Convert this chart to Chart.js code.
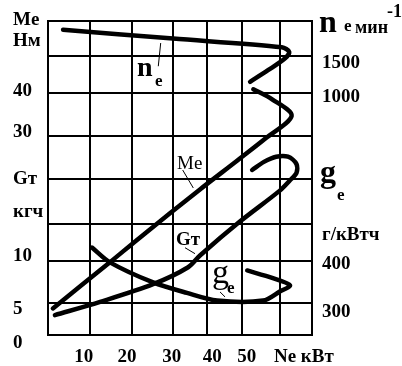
<!DOCTYPE html>
<html>
<head>
<meta charset="utf-8">
<script src="https://cdn.jsdelivr.net/npm/chart.js@4.4.1/dist/chart.umd.min.js"></script>
<style>
  html, body { margin: 0; padding: 0; background: #fff; }
</style>
</head>
<body>
<canvas id="chart" width="402" height="366"></canvas>
<script>
// Ne, кВт - grid lines of the drawing and where the labels sit
const xGrid = [1.2, 11.5, 21.8, 31.9, 40.2, 48.8, 58.1, 66];
const xTickAt = [10, 20.6, 31.6, 41.5, 50, 64];
const xTickText = ['10', '20', '30', '40', '50', 'Ne кВт'];

// left scale is Me, Нм; the Gт labels share the same column
const yGrid = [56.75, 48.6, 40, 30, 20, 9.5, 0.7, -9.1, -16.5];
const leftTickAt = [57, 52.1, 40.5, 30.9, 20, 12.3, 1.9, -10.5, -18.4];
const leftTickText = ['Me', 'Нм', '40', '30', 'Gт', 'кгч', '10', '5', '0'];

// right scale is ne, мин-1; the ge labels share the same column
const rightTickAt = [1500, 1000, -1045, -1471, -2177];
const rightTickText = ['1500', '1000', 'г/кВтч', '400', '300'];

// ne, мин-1
const neX = [4.9, 31.9, 58.6, 60.4, 59.4, 55.2, 50.8];
const neVal = [1996, 1864, 1736, 1669, 1574, 1397, 1225];

// Me, Нм
const meX = [2.4, 16.4, 23.8, 38.5, 47.6, 54.7, 61.0, 56.3, 51.6];
const meVal = [-10.3, 0.5, 6.3, 17.5, 24.2, 29.5, 34.7, 38.5, 40.9];

// Gт, кг/ч
const gtX = [2.9, 14.0, 27.0, 35.6, 38.5, 48.3, 58.1, 60.6, 62.2, 62.2, 60.1, 57.2, 54.2, 51.3];
const gtVal = [2.7, 4.5, 6.9, 9.2, 10.8, 15.4, 19.6, 21.0, 22.0, 23.2, 24.2, 24.2, 23.5, 22.4];

// ge, г/кВтч
const geX = [12.0, 16.4, 27.0, 35.3, 42.7, 54.0, 58.1, 60.6, 56.4, 50.1];
const geVal = [435, 404, 362, 340, 324, 324, 343, 356, 371, 387];

const FONT = '"Liberation Serif", "Times New Roman", serif';

// curve names inside the grid (x in кВт, y on the left scale)
const notes = [
    { x: 23.05, y: 43.96, text: 'n', font: 'bold 28px' },
    { x: 27.47, y: 41.63, text: 'e', font: 'bold 17px' },
    { x: 32.86, y: 22.33, text: 'Me', font: '19px' },
    { x: 32.62, y: 4.42, text: 'Gт', font: 'bold 19px' },
    { x: 41.45, y: -4.41, text: 'g', font: '34px' },
    { x: 45.14, y: -6.74, text: 'e', font: 'bold 17px' }
];
const leaders = [
    [28.86, 51.7, 28.27, 46.28],
    [34.26, 22.03, 36.86, 17.84],
    [34.83, 3.89, 37.28, 2.5],
    [43.42, -6.44, 44.65, -7.6]
];
// headings of the right column, offset from the plot's right edge
const heads = [
    { dx: 7, y: 32, text: 'n', font: 'bold 32px' },
    { dx: 32, y: 31, text: 'e', font: 'bold 17px' },
    { dx: 43, y: 33, text: 'мин', font: 'bold 18px' },
    { dx: 75, y: 17, text: '-1', font: 'bold 18px' },
    { dx: 8, y: 182, text: 'g', font: 'bold 32px' },
    { dx: 25, y: 200, text: 'e', font: 'bold 17px' }
];

const pts = (xs, ys) => xs.map((v, i) => ({ x: v, y: ys[i] }));
const ticksOf = (grid, at) => grid.concat(at).map(v => ({ value: v }));
const tickFont = { family: FONT, size: 19, weight: 'bold' };

const notesPlugin = {
    id: 'notes',
    afterDraw(chart) {
        const { ctx, chartArea: a, scales: { x, y } } = chart;
        ctx.save();
        ctx.fillStyle = '#000';
        ctx.strokeStyle = '#000';
        ctx.textAlign = 'left';
        ctx.textBaseline = 'alphabetic';
        ctx.lineWidth = 1;
        leaders.forEach(([x1, y1, x2, y2]) => {
            ctx.beginPath();
            ctx.moveTo(x.getPixelForValue(x1), y.getPixelForValue(y1));
            ctx.lineTo(x.getPixelForValue(x2), y.getPixelForValue(y2));
            ctx.stroke();
        });
        notes.forEach(n => {
            ctx.font = n.font + ' ' + FONT;
            ctx.fillText(n.text, x.getPixelForValue(n.x), y.getPixelForValue(n.y));
        });
        heads.forEach(h => {
            ctx.font = h.font + ' ' + FONT;
            ctx.fillText(h.text, a.right + h.dx, h.y);
        });
        ctx.restore();
    }
};

const line = (label, xs, ys, axis) => ({
    label, data: pts(xs, ys), yAxisID: axis,
    borderColor: '#000', backgroundColor: '#000', borderWidth: 4.5,
    tension: 0.3, borderCapStyle: 'round', borderJoinStyle: 'round',
    pointRadius: 0, fill: false
});

new Chart(document.getElementById('chart'), {
    type: 'line',
    data: {
        datasets: [
            line('ne', neX, neVal, 'yNe'),
            line('Me', meX, meVal, 'y'),
            line('Gт', gtX, gtVal, 'yGt'),
            line('ge', geX, geVal, 'yGe')
        ]
    },
    options: {
        responsive: false,
        animation: false,
        devicePixelRatio: 1,
        layout: { padding: { left: 13, top: 20, right: 0, bottom: 0 }, autoPadding: false },
        plugins: { legend: { display: false }, tooltip: { enabled: false } },
        scales: {
            x: {
                type: 'linear', min: 1.2, max: 66,
                afterBuildTicks: s => { s.ticks = ticksOf(xGrid, xTickAt); },
                afterFit: s => { s.height = 31; },
                grid: { color: c => c.index < xGrid.length ? '#000' : 'rgba(0,0,0,0)', lineWidth: 2, drawTicks: false },
                border: { color: '#000', width: 2 },
                ticks: {
                    autoSkip: false, maxRotation: 0, minRotation: 0, padding: 11, color: '#000', font: tickFont,
                    callback: (v, i) => i < xGrid.length ? '' : xTickText[i - xGrid.length]
                }
            },
            y: {
                type: 'linear', position: 'left', min: -16.5, max: 56.75,
                afterBuildTicks: s => { s.ticks = ticksOf(yGrid, leftTickAt); },
                afterFit: s => { s.width = 35; },
                grid: { color: c => c.index < yGrid.length ? '#000' : 'rgba(0,0,0,0)', lineWidth: 2, drawTicks: false },
                border: { color: '#000', width: 2 },
                ticks: {
                    autoSkip: false, crossAlign: 'far', padding: 0, color: '#000', font: tickFont,
                    callback: (v, i) => i < yGrid.length ? '' : leftTickText[i - yGrid.length]
                }
            },
            yNe: {
                type: 'linear', position: 'right', min: -2515, max: 2118,
                afterBuildTicks: s => { s.ticks = rightTickAt.map(v => ({ value: v })); },
                afterFit: s => { s.width = 90; },
                grid: { display: false, drawTicks: false },
                border: { color: '#000', width: 2 },
                ticks: {
                    autoSkip: false, padding: 10, color: '#000', font: tickFont,
                    callback: (v, i) => rightTickText[i]
                }
            },
            yGt: { type: 'linear', display: false, min: 0, max: 42.57 },
            yGe: { type: 'linear', display: false, min: 252, max: 908 }
        }
    },
    plugins: [notesPlugin]
});
</script>
</body>
</html>
